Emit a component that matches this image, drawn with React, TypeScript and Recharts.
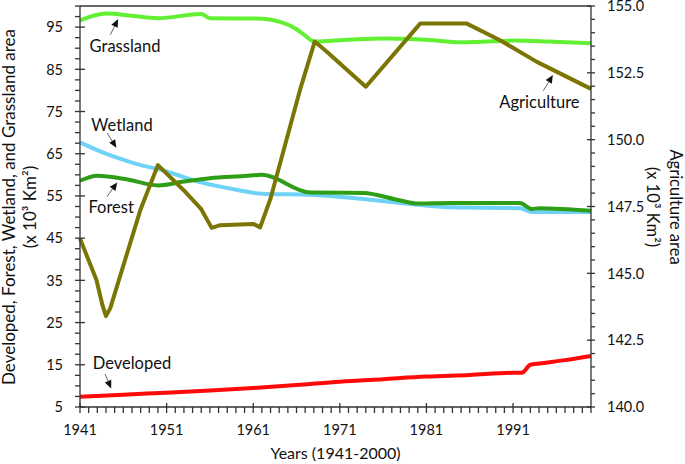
import React from "react";
import { LineChart, Line, XAxis, YAxis, ReferenceLine, ReferenceDot, Label } from "recharts";

// land cover areas, x 10^3 km2
const grasslandYears = [1941, 1944, 1947, 1950, 1955, 1956, 1962, 1964, 1966, 1967, 1968, 1972, 1976, 1981, 1985, 1987, 1991, 1995, 2000];
const grasslandArea = [96.6, 98.2, 97.7, 97.1, 98.1, 97.1, 97.0, 96.3, 94.5, 93.0, 91.6, 92.0, 92.3, 92.0, 91.4, 91.5, 91.8, 91.6, 91.2];

const wetlandYears = [1941, 1944, 1947, 1951, 1955, 1959.5, 1962, 1968, 1974, 1980, 1984, 1991.8, 1993.2, 2000];
const wetlandArea = [67.7, 65.0, 62.9, 60.8, 58.2, 56.3, 55.5, 55.25, 54.2, 52.9, 52.3, 52.1, 51.2, 51.2];

const forestYears = [1941, 1943, 1946.5, 1950, 1953, 1956, 1960, 1962, 1967.6, 1973.7, 1978, 1980, 1984, 1991.8, 1993.2, 1994, 2000];
const forestArea = [58.6, 59.8, 58.9, 57.5, 58.4, 59.2, 59.7, 60.0, 55.8, 55.7, 53.9, 53.2, 53.3, 53.3, 51.9, 52.1, 51.5];

const developedYears = [1941, 1946, 1951, 1956, 1961, 1966, 1971, 1976, 1981, 1986, 1991, 1992, 1993, 1994, 1997, 2000];
const developedArea = [7.4, 7.9, 8.4, 8.9, 9.5, 10.2, 11.0, 11.6, 12.2, 12.6, 13.1, 13.1, 15.0, 15.3, 16.1, 17.1];

const agricultureYears = [1941, 1942.9, 1943.6, 1944, 1944.5, 1948, 1950, 1953, 1955, 1956.2, 1957.2, 1961, 1961.8, 1963, 1966.4, 1968.1, 1969.5, 1974, 1980.3, 1985.6, 1989.5, 1993.7, 2000];
const agricultureArea = [146.3, 144.75, 143.8, 143.4, 143.7, 147.4, 149.05, 148.1, 147.4, 146.7, 146.8, 146.85, 146.72, 147.8, 151.86, 153.67, 153.29, 151.98, 154.35, 154.35, 153.72, 152.92, 151.9];

const yearLabels = [1941, 1951, 1961, 1971, 1981, 1991];
const leftLabels = [5, 15, 25, 35, 45, 55, 65, 75, 85, 95];
const rightLabels = [140, 142.5, 145, 147.5, 150, 152.5, 155];

const FONT = "Lato, 'Open Sans', sans-serif";
const AXIS = "#333";
const TEXT = "#111";

const toPoints = (xs: number[], ys: number[]) => xs.map((year, i) => ({ year, v: ys[i] }));

const range = (from: number, to: number, step: number) => {
  const out: number[] = [];
  for (let v = from; v <= to + 1e-9; v += step) out.push(Math.round(v * 10) / 10);
  return out;
};

const xTicks = range(1941, 2000, 1);
const leftTicks = range(5, 100, 2.5);
const rightTicks = range(140, 155, 0.5);

const XTick = (props: any) => {
  const { x, y, payload } = props;
  const major = yearLabels.includes(payload.value);
  return (
    <g>
      <line x1={x} x2={x} y1={major ? y - 4 : y} y2={y + 6} stroke={AXIS} strokeWidth={1.3} />
      {major && (
        <text x={x} y={y + 28} textAnchor="middle" fontSize={14.5} fontFamily={FONT} fill={TEXT}>
          {payload.value}
        </text>
      )}
    </g>
  );
};

const LeftTick = (props: any) => {
  const { x, y, payload } = props;
  const major = leftLabels.includes(payload.value);
  return (
    <g>
      <line x1={x - 5} x2={major ? x + 5 : x} y1={y} y2={y} stroke={AXIS} strokeWidth={1.3} />
      {major && (
        <text x={x - 17} y={y} dy="0.36em" textAnchor="end" fontSize={14.5} fontFamily={FONT} fill={TEXT}>
          {payload.value}
        </text>
      )}
    </g>
  );
};

const RightTick = (props: any) => {
  const { x, y, payload } = props;
  const major = rightLabels.includes(payload.value);
  return (
    <g>
      <line x1={major ? x - 4 : x} x2={x + 4} y1={y} y2={y} stroke={AXIS} strokeWidth={1.3} />
      {major && (
        <text x={x + 16} y={y} dy="0.36em" textAnchor="start" fontSize={14.5} fontFamily={FONT} fill={TEXT}>
          {payload.value.toFixed(1)}
        </text>
      )}
    </g>
  );
};

const LeftTitle = (props: any) => {
  const { viewBox } = props;
  const cy = viewBox.y + 201;
  return (
    <g fontFamily={FONT} fontSize={17} fill={TEXT} textAnchor="middle">
      <text x={15} y={cy} transform={`rotate(-90, 15, ${cy})`}>
        Developed, Forest, Wetland, and Grassland area
      </text>
      <text x={36} y={cy} transform={`rotate(-90, 36, ${cy})`}>
        (x 10³ Km²)
      </text>
    </g>
  );
};

const RightTitle = (props: any) => {
  const { viewBox } = props;
  const cy = viewBox.y + 201;
  return (
    <g fontFamily={FONT} fontSize={16.5} fill={TEXT} textAnchor="middle">
      <text x={670} y={cy} transform={`rotate(90, 670, ${cy})`}>
        Agriculture area
      </text>
      <text x={647} y={cy} transform={`rotate(90, 647, ${cy})`}>
        (x 10³ Km²)
      </text>
    </g>
  );
};

const arrowShape = (p: any) => {
  const { x1, y1, x2, y2 } = p;
  const dx = x2 - x1;
  const dy = y2 - y1;
  const len = Math.hypot(dx, dy) || 1;
  const ux = dx / len;
  const uy = dy / len;
  const hl = 8;
  const hw = 3.5;
  const bx = x2 - ux * hl;
  const by = y2 - uy * hl;
  const pts = `${x2},${y2} ${bx - uy * hw},${by + ux * hw} ${bx + uy * hw},${by - ux * hw}`;
  return (
    <g>
      <line x1={x1} y1={y1} x2={bx} y2={by} stroke="#666" strokeWidth={1} />
      <polygon points={pts} fill="#111" />
    </g>
  );
};

// series callouts: text centre and arrow tail -> head, in data units
const callouts = [
  { text: "Grassland", axis: "left", tx: 1946.2, ty: 90.6, from: [1944.5, 93.2], to: [1945.4, 96.9] },
  { text: "Wetland", axis: "left", tx: 1945.85, ty: 71.8, from: [1944.15, 69.9], to: [1945.2, 66.4] },
  { text: "Forest", axis: "left", tx: 1944.6, ty: 52.4, from: [1944.1, 54.8], to: [1945.3, 58.2] },
  { text: "Developed", axis: "left", tx: 1947, ty: 15.4, from: [1943.9, 12.8], to: [1944.6, 9.4] },
  { text: "Agriculture", axis: "right", tx: 1994.05, ty: 151.39, from: [1994.5, 151.83], to: [1995.6, 152.42] },
];

export default function App() {
  return (
    <div style={{ position: "absolute", left: 0, top: 0, width: 685, height: 464, background: "#fff" }}>
      <LineChart width={685} height={464} margin={{ top: 6, right: 0, bottom: 0, left: 0 }}>
        <XAxis
          dataKey="year"
          type="number"
          domain={[1941, 2000]}
          ticks={xTicks}
          interval={0}
          height={57}
          tickSize={0}
          tickMargin={0}
          tickLine={false}
          tick={<XTick />}
          axisLine={{ stroke: AXIS, strokeWidth: 1.3 }}
        >
          <Label
            value="Years (1941-2000)"
            position="insideBottom"
            offset={5}
            style={{ fontFamily: FONT, fontSize: 16, fill: TEXT }}
          />
        </XAxis>
        <YAxis
          yAxisId="left"
          type="number"
          domain={[5, 100]}
          ticks={leftTicks}
          interval={0}
          width={80}
          tickSize={0}
          tickMargin={0}
          tickLine={false}
          tick={<LeftTick />}
          axisLine={{ stroke: AXIS, strokeWidth: 1.3 }}
          allowDataOverflow
        >
          <Label content={<LeftTitle />} />
        </YAxis>
        <YAxis
          yAxisId="right"
          orientation="right"
          type="number"
          domain={[140, 155]}
          ticks={rightTicks}
          interval={0}
          width={94}
          tickSize={0}
          tickMargin={0}
          tickLine={false}
          tick={<RightTick />}
          axisLine={{ stroke: AXIS, strokeWidth: 1.3 }}
          allowDataOverflow
        >
          <Label content={<RightTitle />} />
        </YAxis>
        <ReferenceLine yAxisId="left" y={100} stroke={AXIS} strokeWidth={1.3} />

        <Line yAxisId="left" data={toPoints(wetlandYears, wetlandArea)} dataKey="v" name="Wetland" type="monotone" stroke="#6fd3f7" strokeWidth={4} dot={false} isAnimationActive={false} />
        <Line yAxisId="left" data={toPoints(forestYears, forestArea)} dataKey="v" name="Forest" type="monotone" stroke="#2e9e16" strokeWidth={4} dot={false} isAnimationActive={false} />
        <Line yAxisId="left" data={toPoints(grasslandYears, grasslandArea)} dataKey="v" name="Grassland" type="monotone" stroke="#62f033" strokeWidth={4} dot={false} isAnimationActive={false} />
        <Line yAxisId="left" data={toPoints(developedYears, developedArea)} dataKey="v" name="Developed" type="monotone" stroke="#ff0a0a" strokeWidth={4} dot={false} isAnimationActive={false} />
        <Line yAxisId="right" data={toPoints(agricultureYears, agricultureArea)} dataKey="v" name="Agriculture" type="linear" stroke="#7b7604" strokeWidth={4} strokeLinejoin="round" dot={false} isAnimationActive={false} />

        {callouts.map((c) => (
          <ReferenceLine
            key={c.text + "-arrow"}
            yAxisId={c.axis}
            segment={[{ x: c.from[0], y: c.from[1] }, { x: c.to[0], y: c.to[1] }]}
            shape={arrowShape}
          />
        ))}
        {callouts.map((c) => (
          <ReferenceDot
            key={c.text + "-text"}
            yAxisId={c.axis}
            x={c.tx}
            y={c.ty}
            r={0}
            shape={(p: any) => (
              <text x={p.cx} y={p.cy} dy="0.36em" textAnchor="middle" fontSize={16.5} fontFamily={FONT} fill={TEXT}>
                {c.text}
              </text>
            )}
          />
        ))}
      </LineChart>
    </div>
  );
}
